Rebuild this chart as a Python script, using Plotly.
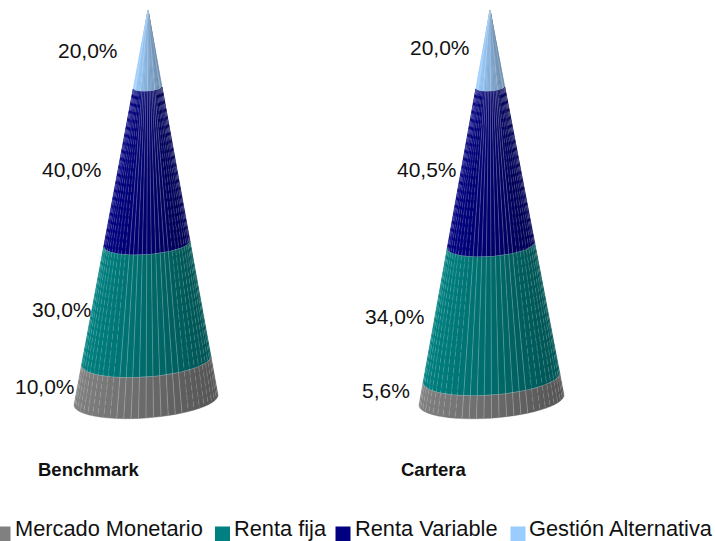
import math
import plotly.graph_objects as go

categories = ["Mercado Monetario", "Renta fija", "Renta Variable", "Gestión Alternativa"]
chart_names = ["Benchmark", "Cartera"]
benchmark_values = [10.0, 30.0, 40.0, 20.0]
cartera_values = [5.6, 34.0, 40.5, 20.0]
series_colors = [(128, 128, 128), (0, 128, 128), (0, 0, 128), (153, 204, 255)]

W, H = 715, 541
TOP_PX, PX_PER_UNIT = 10.0, 3.9
N_FACETS = 30
DEPTH, TILT = 0.25, 0.07


def yval(px):
    return (px - TOP_PX) / PX_PER_UNIT


def cone_traces(values, apex_x, base_x, half):
    total = sum(values)
    # shares measured downwards from the apex
    cuts = [0.0]
    for v in reversed(values):
        cuts.append(cuts[-1] + v / total * 100)
    colors = list(reversed(series_colors))
    traces = []

    def point(c, t):
        cx = apex_x + (base_x - apex_x) * c / 100
        r = half * c / 100
        dx = -math.cos(t) * r
        dy_px = math.sin(t) * r * DEPTH - dx * TILT
        return cx + dx, c + dy_px / PX_PER_UNIT

    for k in range(4):
        c0, c1 = cuts[k], cuts[k + 1]
        rgb = colors[k]
        for i in range(N_FACETS):
            t0 = math.pi * i / N_FACETS
            t1 = math.pi * (i + 1) / N_FACETS
            pos = (1 - math.cos((t0 + t1) / 2)) / 2
            f = 1 - 0.34 * pos
            col = "rgb(%d,%d,%d)" % tuple(round(v * f) for v in rgb)
            a, b, c, d = point(c0, t0), point(c0, t1), point(c1, t1), point(c1, t0)
            traces.append(go.Scatter(
                x=[a[0], b[0], c[0], d[0], a[0]], y=[a[1], b[1], c[1], d[1], a[1]],
                mode="lines", fill="toself", fillcolor=col,
                line=dict(color=col, width=0.4),
                hoverinfo="skip", showlegend=False))
        # facet seams: solid on the front, broken towards the silhouette
        solid_x, solid_y, broken_x, broken_y = [], [], [], []
        step = 5 if k == 0 else 1
        for i in range(step, N_FACETS, step):
            t = math.pi * i / N_FACETS
            a, b = point(c0, t), point(c1, t)
            xs, ys = (solid_x, solid_y) if (abs(math.cos(t)) < 0.5 or k == 0) else (broken_x, broken_y)
            xs += [a[0], b[0], None]
            ys += [a[1], b[1], None]
        traces.append(go.Scatter(x=solid_x, y=solid_y, mode="lines",
                                 line=dict(color="rgba(255,255,255,0.3)", width=0.8),
                                 hoverinfo="skip", showlegend=False))
        traces.append(go.Scatter(x=broken_x, y=broken_y, mode="lines",
                                 line=dict(color="rgba(255,255,255,0.22)", width=0.8, dash="5px,3px"),
                                 hoverinfo="skip", showlegend=False))
        # boundary with the next band
        if k < 3:
            pts = [point(c1, math.pi * i / 48) for i in range(49)]
            traces.append(go.Scatter(x=[p[0] for p in pts], y=[p[1] for p in pts], mode="lines",
                                     line=dict(color="rgba(225,235,240,0.8)", width=0.8),
                                     hoverinfo="skip", showlegend=False))
    return traces


fig = go.Figure()
for tr in cone_traces(benchmark_values, 148, 146, 72):
    fig.add_trace(tr)
for tr in cone_traces(cartera_values, 490, 491.5, 72.5):
    fig.add_trace(tr)

annotations = []


def label(text, x_right, y_mid, size=21, bold=False, anchor="right", family="Liberation Sans", color="#111"):
    annotations.append(dict(
        x=x_right, y=yval(y_mid), xref="x", yref="y", text=f"<b>{text}</b>" if bold else text,
        showarrow=False, xanchor=anchor, yanchor="middle", xshift=0,
        font=dict(family=family, size=size, color=color), borderpad=0, borderwidth=0))


def pct(v):
    return f"{v:.1f}%".replace(".", ",")


bench_label_pos = [(75, 386), (92, 309), (102, 169), (118, 50)]
cart_label_pos = [(410, 390), (425, 316), (457, 169), (470, 47)]
for v, (x, y) in zip(benchmark_values, bench_label_pos):
    label(pct(v), x, y)
for v, (x, y) in zip(cartera_values, cart_label_pos):
    label(pct(v), x, y)

label(chart_names[0], 88.5, 469, size=18.5, bold=True, anchor="center")
label(chart_names[1], 433.5, 469, size=18.5, bold=True, anchor="center")

legend_swatch_x = [3, 222.5, 343, 518]
legend_text_x = [15, 234, 355, 529]
for name, rgb, sx, tx in zip(categories, series_colors, legend_swatch_x, legend_text_x):
    fig.add_trace(go.Scatter(x=[sx], y=[yval(534)], mode="markers", name=name,
                             marker=dict(symbol="square", size=15, color="rgb(%d,%d,%d)" % rgb),
                             hoverinfo="skip", showlegend=False))
    label(name, tx, 528, size=21.8, anchor="left")

fig.update_layout(
    width=W, height=H, margin=dict(l=0, r=0, t=0, b=0),
    paper_bgcolor="white", plot_bgcolor="white", showlegend=False,
    xaxis=dict(range=[0, W], visible=False, fixedrange=True),
    yaxis=dict(range=[yval(H), yval(0)], visible=False, fixedrange=True),
    annotations=annotations,
)
fig.write_html("out.html", config={"displayModeBar": False},
               post_script="document.body.style.margin='0';document.body.style.overflow='hidden';")
